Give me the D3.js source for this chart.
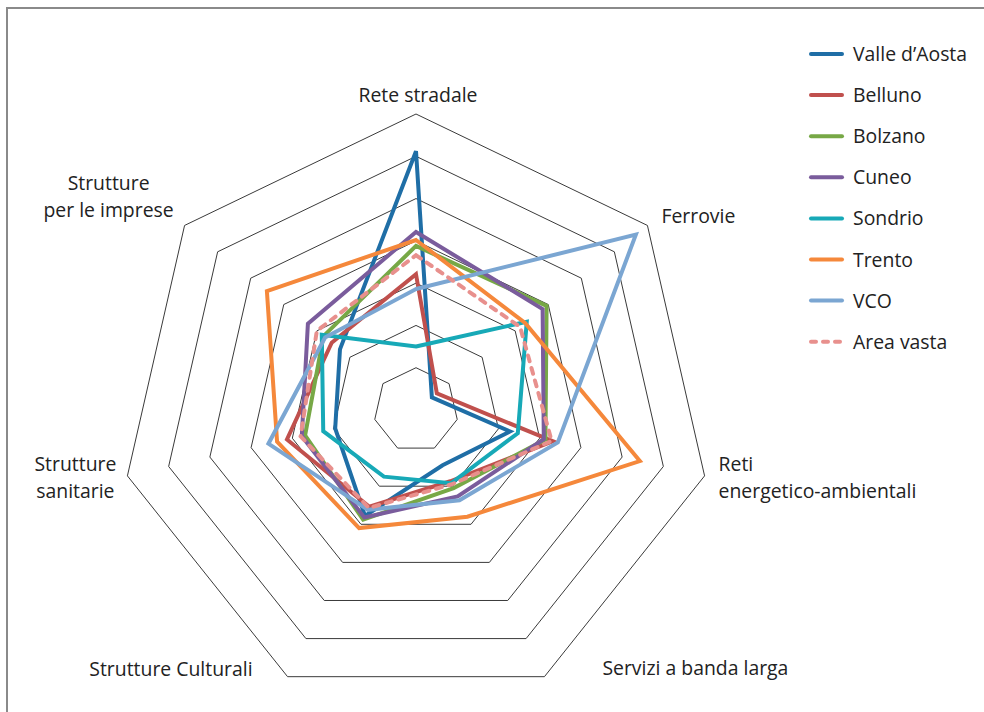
<!DOCTYPE html>
<html>
<head>
<meta charset="utf-8">
<script src="https://cdn.jsdelivr.net/npm/d3@7"></script>
<style>
  body { margin: 0; background: #fff; }
  text { font-family: "Open Sans", "Noto Sans", sans-serif; font-size: 19.4px; fill: #222; }
</style>
</head>
<body>
<svg id="radar" width="984" height="712"></svg>
<script>
// categories (clockwise from the top)
const categories = [
  "Rete stradale",
  "Ferrovie",
  "Reti energetico-ambientali",
  "Servizi a banda larga",
  "Strutture Culturali",
  "Strutture sanitarie",
  "Strutture per le imprese"
];

// series values (scale 0..7)
const valleAosta = [6.12, 0.48, 2.28, 1.45, 2.78, 1.96, 2.30];
const belluno    = [3.21, 0.63, 3.32, 1.87, 2.54, 3.13, 2.55];
const bolzano    = [3.88, 3.95, 3.14, 2.05, 2.88, 2.69, 2.80];
const cuneo      = [4.21, 3.83, 3.10, 2.27, 2.82, 2.77, 3.27];
const sondrio    = [1.50, 3.35, 2.47, 1.92, 1.75, 2.25, 2.85];
const trento     = [4.02, 3.30, 5.43, 2.80, 3.10, 3.37, 4.51];
const vco        = [2.86, 6.65, 3.44, 2.37, 2.62, 3.58, 2.75];
const areaVasta  = [3.66, 3.15, 3.29, 1.95, 2.57, 2.80, 3.00];

const seriesNames = ["Valle d\u2019Aosta", "Belluno", "Bolzano", "Cuneo", "Sondrio", "Trento", "VCO", "Area vasta"];
const ringTicks = [1, 2, 3, 4, 5, 6, 7];

const series = [
  {name: seriesNames[0], values: valleAosta, color: "#1f6ea6"},
  {name: seriesNames[1], values: belluno,    color: "#c0504d"},
  {name: seriesNames[2], values: bolzano,    color: "#77a846"},
  {name: seriesNames[3], values: cuneo,      color: "#7a5c9c"},
  {name: seriesNames[4], values: sondrio,    color: "#17a9b7"},
  {name: seriesNames[5], values: trento,     color: "#f5883b"},
  {name: seriesNames[6], values: vco,        color: "#7ba6d2"},
  {name: seriesNames[7], values: areaVasta,  color: "#e8908d", dash: true}
];

const svg = d3.select("#radar");
const cx = 416, cy = 410;

// outer frame
svg.append("rect")
  .attr("x", 7).attr("y", 8)
  .attr("width", 1000).attr("height", 730)
  .attr("fill", "none")
  .attr("stroke", "#8a8a8a")
  .attr("stroke-width", 2);

const r = d3.scaleLinear().domain([0, 7]).range([0, 296]);
const angle = d3.scalePoint().domain(categories.map((d, i) => i)).range([0, 2 * Math.PI * 6 / 7]);

const g = svg.append("g").attr("transform", `translate(${cx},${cy})`);

// grid heptagons
const ringLine = d3.lineRadial()
  .angle((d, i) => angle(i))
  .radius(d => r(d))
  .curve(d3.curveLinearClosed);

g.selectAll(".ring")
  .data(ringTicks)
  .join("path")
    .attr("class", "ring")
    .attr("d", t => ringLine(categories.map(() => t)))
    .attr("fill", "none")
    .attr("stroke", "#3a3a3a")
    .attr("stroke-width", 1);

// series lines
const dataLine = d3.lineRadial()
  .angle((d, i) => angle(i))
  .radius(d => r(d))
  .curve(d3.curveLinearClosed);

g.selectAll(".series")
  .data(series)
  .join("path")
    .attr("class", "series")
    .attr("d", d => dataLine(d.values))
    .attr("fill", "none")
    .attr("stroke", d => d.color)
    .attr("stroke-width", 4)
    .attr("stroke-linejoin", "miter")
    .attr("stroke-linecap", d => d.dash ? "round" : "butt")
    .attr("stroke-dasharray", d => d.dash ? "6,7" : null);

// axis labels: offsets from the outer vertex
const labelPos = [
  {lines: ["Rete stradale"], dx: 2, dy: -12, anchor: "middle"},
  {lines: ["Ferrovie"], dx: 14, dy: -2, anchor: "start"},
  {lines: ["Reti", "energetico-ambientali"], dx: 14, dy: -5, anchor: "start"},
  {lines: ["Servizi a banda larga"], dx: 58, dy: -2, anchor: "start"},
  {lines: ["Strutture Culturali"], dx: -35, dy: -1, anchor: "end"},
  {lines: ["Strutture", "sanitarie"], dx: -52, dy: -5, anchor: "middle"},
  {lines: ["Strutture", "per le imprese"], dx: -76, dy: -35, anchor: "middle"}
];

categories.forEach((c, i) => {
  const a = angle(i) - Math.PI / 2;
  const x = cx + r(7) * Math.cos(a) + labelPos[i].dx;
  const y = cy + r(7) * Math.sin(a) + labelPos[i].dy;
  const t = svg.append("text")
    .attr("x", x).attr("y", y)
    .attr("text-anchor", labelPos[i].anchor);
  labelPos[i].lines.forEach((l, k) => {
    t.append("tspan").attr("x", x).attr("dy", k === 0 ? 0 : 27).text(l);
  });
});

// legend
const legend = svg.append("g").attr("transform", "translate(809,54)");
const item = legend.selectAll(".item")
  .data(series)
  .join("g")
    .attr("class", "item")
    .attr("transform", (d, i) => `translate(0,${i * 41.1})`);

item.append("line")
  .attr("x1", 2).attr("x2", 33)
  .attr("stroke", d => d.color)
  .attr("stroke-width", 4)
  .attr("stroke-linecap", "round")
  .attr("stroke-dasharray", d => d.dash ? "5,7" : null);

item.append("text")
  .attr("x", 44).attr("y", 7)
  .text(d => d.name);
</script>
</body>
</html>
